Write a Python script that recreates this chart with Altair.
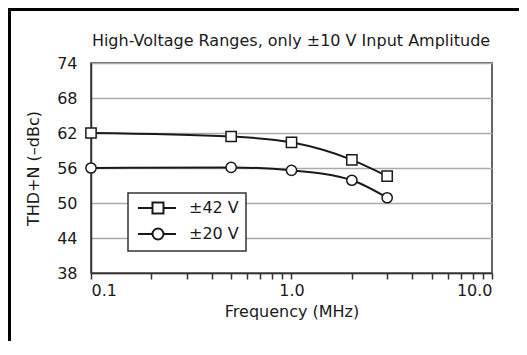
import altair as alt
import pandas as pd

freq = [0.1, 0.5, 1.0, 2.0, 3.0]
thd_42 = [62.0, 61.4, 60.4, 57.4, 54.6]
thd_20 = [56.0, 56.1, 55.6, 53.9, 50.9]
series = ["±42 V", "±20 V"]
y_ticks = [38, 44, 50, 56, 62, 68, 74]
x_ticks = [0.1, 0.2, 0.3, 0.4, 0.5, 0.6, 0.7, 0.8, 0.9,
           1, 2, 3, 4, 5, 6, 7, 8, 9, 10]
title_text = "High-Voltage Ranges, only ±10 V Input Amplitude"

rows = []
for f, v in zip(freq, thd_42):
    rows.append({"f": f, "v": v, "s": series[0]})
for f, v in zip(freq, thd_20):
    rows.append({"f": f, "v": v, "s": series[1]})
df = pd.DataFrame(rows)

FONT = "DejaVu Sans"
INK = "#1a1a1a"

x = alt.X("f:Q", title="Frequency (MHz)",
          scale=alt.Scale(type="log", domain=[0.1, 10], nice=False),
          axis=alt.Axis(values=x_ticks, grid=False, tickSize=6, tickWidth=1.5,
                        labelExpr="datum.value == 0.1 ? '0.1' : datum.value == 1 ? '1.0' : datum.value == 10 ? '10.0' : ''",
                        labelPadding=3, titlePadding=5))
y = alt.Y("v:Q", title="THD+N (–dBc)",
          scale=alt.Scale(domain=[38, 74], nice=False, zero=False),
          axis=alt.Axis(values=y_ticks, grid=True, ticks=False, labelPadding=14,
                        titlePadding=15))

base = alt.Chart(df)

lines = base.mark_line(interpolate="monotone", color=INK, strokeWidth=2).encode(
    x=x, y=y, detail="s:N")

points = base.mark_point(filled=True, fill="white", stroke=INK, strokeWidth=1.5,
                         size=105, opacity=1).encode(
    x=x, y=y,
    shape=alt.Shape("s:N", scale=alt.Scale(domain=series, range=["square", "circle"]),
                    legend=None))

sq_path = "M-1,0H1.9M4.1,0H6.6M1.9,-1.1H4.1V1.1H1.9Z"
ci_path = "M-1,0H1.9M4.1,0H6.6M4.1,0A1.1,1.1 0 1,1 1.9,0A1.1,1.1 0 1,1 4.1,0Z"

legend_layer = base.transform_filter("false").mark_point(
    filled=False, color=INK, strokeWidth=2, opacity=1).encode(
    x=x, y=y,
    shape=alt.Shape("s:N", scale=alt.Scale(domain=series, range=[sq_path, ci_path]),
                    legend=alt.Legend(title=None, orient="none", legendX=37, legendY=130,
                                      symbolSize=100, labelOffset=38,
                                      symbolStrokeColor=INK, symbolFillColor="white",
                                      symbolStrokeWidth=2, symbolOpacity=1,
                                      labelFontSize=16, labelFont=FONT, labelColor=INK,
                                      rowPadding=6, padding=7,
                                      strokeColor="#333", fillColor="white")))

one = pd.DataFrame({"a": [0]})
title_mark = alt.Chart(one).mark_text(
    text=title_text, font=FONT, fontSize=16, color=INK, align="center",
    baseline="alphabetic").encode(x=alt.value(200), y=alt.value(-17))
frame_top = alt.Chart(one).mark_rule(color="black", strokeWidth=3).encode(
    x=alt.value(-83), x2=alt.value(428), y=alt.value(-53.5))
frame_left = alt.Chart(one).mark_rule(color="black", strokeWidth=3).encode(
    x=alt.value(-81.5), y=alt.value(-55), y2=alt.value(278))

chart = alt.layer(lines, points, legend_layer, title_mark, frame_top, frame_left).resolve_scale(
    shape="independent"
).properties(
    width=401, height=210,
    autosize=alt.AutoSizeParams(type="none"),
    padding={"left": 83, "top": 55, "right": 27, "bottom": 68},
).configure_view(
    stroke="#333", strokeWidth=1.5
).configure_axis(
    labelFont=FONT, titleFont=FONT, labelFontSize=16, titleFontSize=16,
    labelColor=INK, titleColor=INK, titleFontWeight="normal",
    domainColor="#333", domainWidth=1.5, tickColor="#333",
    gridColor="#aaaaaa", gridWidth=1.5
).configure_legend(
    strokeWidth=1.5
)

chart.save("out.html", embed_options={"renderer": "svg", "actions": False})
